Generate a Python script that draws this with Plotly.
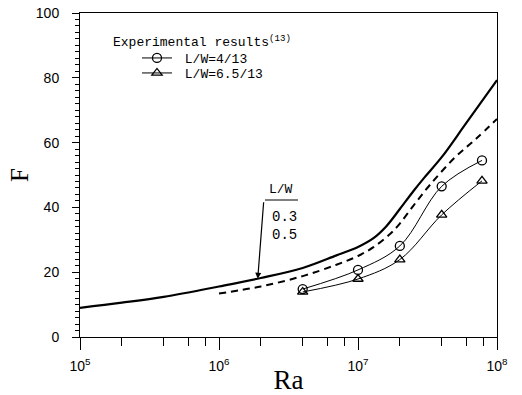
import plotly.graph_objects as go
import math

# Numerical results (curves)
ra_03 = [1e5, 2e5, 4e5, 1e6, 2e6, 4e6, 7e6, 1e7, 1.3e7, 1.6e7, 2e7, 2.5e7, 3e7, 4e7, 6e7, 1e8]
f_03 = [9.0, 10.6, 12.4, 15.6, 18.2, 21.3, 25.2, 27.8, 30.6, 34.2, 39.5, 45.0, 49.2, 55.5, 66.0, 79.3]

ra_05 = [1e6, 2e6, 4e6, 7e6, 1e7, 1.3e7, 1.7e7, 2e7, 2.5e7, 3.3e7, 5e7, 7e7, 1e8]
f_05 = [13.4, 15.6, 18.8, 22.3, 25.0, 27.8, 31.8, 35.0, 40.5, 47.0, 55.5, 61.0, 67.3]

# Experimental results (13)
ra_exp = [4e6, 1e7, 2e7, 4e7, 7.8e7]
f_413 = [14.8, 20.7, 28.1, 46.5, 54.5]
f_6513 = [13.9, 17.9, 23.9, 37.7, 48.2]

x_tickvals = [1e5, 1e6, 1e7, 1e8]
x_ticktext = ["10<sup>5</sup>", "10<sup>6</sup>", "10<sup>7</sup>", "10<sup>8</sup>"]
x_minor = [m * 10 ** e for e in (5, 6, 7) for m in (2, 4, 6, 8)]

mono = "Liberation Mono"
serif = "Liberation Serif"
sans = "Liberation Sans"

fig = go.Figure()
fig.add_trace(go.Scatter(x=ra_03, y=f_03, mode="lines", showlegend=False,
                         line=dict(color="black", width=2.2, shape="spline", smoothing=1)))
fig.add_trace(go.Scatter(x=ra_05, y=f_05, mode="lines", showlegend=False,
                         line=dict(color="black", width=2, dash="7px,5px", shape="spline", smoothing=1)))
fig.add_trace(go.Scatter(x=ra_exp, y=f_413, mode="lines+markers", name=" L/W=4/13", legend="legend",
                         line=dict(color="black", width=1, shape="spline", smoothing=1),
                         marker=dict(symbol="circle-open", size=9, color="black", line=dict(width=1.3))))
fig.add_trace(go.Scatter(x=ra_exp, y=f_6513, mode="lines+markers", name=" L/W=6.5/13", legend="legend2",
                         line=dict(color="black", width=1, shape="spline", smoothing=1),
                         marker=dict(symbol="triangle-up-open", size=9, color="black", line=dict(width=1.3))))

L, R, T, B = 80, 25, 13, 58
W, H = 522, 395
pw, ph = W - L - R, H - T - B

def px(xp):
    return (xp - L) / pw

def py(yp):
    return (H - B - yp) / ph

leg_common = dict(xanchor="left", yanchor="middle", bgcolor="rgba(0,0,0,0)",
                  font=dict(family=mono, size=13), itemwidth=30)

fig.update_layout(
    width=W, height=H,
    margin=dict(l=L, r=R, t=T, b=B, autoexpand=False),
    paper_bgcolor="white", plot_bgcolor="white",
    font=dict(family=sans, size=14, color="black"),
    legend=dict(x=px(137), y=py(58), **leg_common),
    legend2=dict(x=px(137), y=py(73), **leg_common),
    xaxis=dict(type="log", range=[5, 8], tickmode="array", tickvals=x_tickvals, ticktext=x_ticktext,
               ticks="outside", ticklen=12, tickwidth=1, tickcolor="black",
               showline=True, linecolor="black", linewidth=1, mirror=True,
               showgrid=False, zeroline=False, automargin=False, ticklabelstandoff=4,
               tickfont=dict(family=sans, size=14),
               minor=dict(tickmode="array", tickvals=x_minor, ticks="outside", ticklen=8,
                          tickcolor="black", showgrid=False),
               title=dict(text="Ra", font=dict(family=serif, size=27), standoff=4)),
    yaxis=dict(range=[0, 100], tickmode="linear", tick0=0, dtick=20,
               ticks="outside", ticklen=7, tickwidth=1, tickcolor="black",
               showline=True, linecolor="black", linewidth=1, mirror=True,
               showgrid=False, zeroline=False, ticklabelstandoff=10, automargin=False,
               tickfont=dict(family=sans, size=14),
               minor=dict(dtick=2, ticks="outside", ticklen=4, tickcolor="black", showgrid=False),
               title=dict(text="F", font=dict(family=serif, size=25), standoff=0)),
)

fig.add_annotation(x=px(111), y=py(42), xref="paper", yref="paper", xanchor="left", yanchor="middle",
                   text="Experimental results<sup>(13)</sup>", showarrow=False,
                   font=dict(family=mono, size=13))
fig.add_annotation(x=px(281), y=py(189), xref="paper", yref="paper", xanchor="center", yanchor="middle",
                   text="L/W", showarrow=False, font=dict(family=mono, size=13))
fig.add_annotation(x=px(270), y=py(217), xref="paper", yref="paper", xanchor="left", yanchor="middle",
                   text="0.3", showarrow=False, font=dict(family=mono, size=14))
fig.add_annotation(x=px(270), y=py(235), xref="paper", yref="paper", xanchor="left", yanchor="middle",
                   text="0.5", showarrow=False, font=dict(family=mono, size=14))
fig.add_shape(type="line", xref="paper", yref="paper", x0=px(265), x1=px(298), y0=py(200), y1=py(200),
              line=dict(color="black", width=1))
fig.add_annotation(x=math.log10(1.9e6), y=18.0, xref="x", yref="y", text="", showarrow=True,
                   ax=6, ay=-78, arrowhead=2, arrowsize=1, arrowwidth=1.2, arrowcolor="black", standoff=0)

fig.write_html("out.html")
